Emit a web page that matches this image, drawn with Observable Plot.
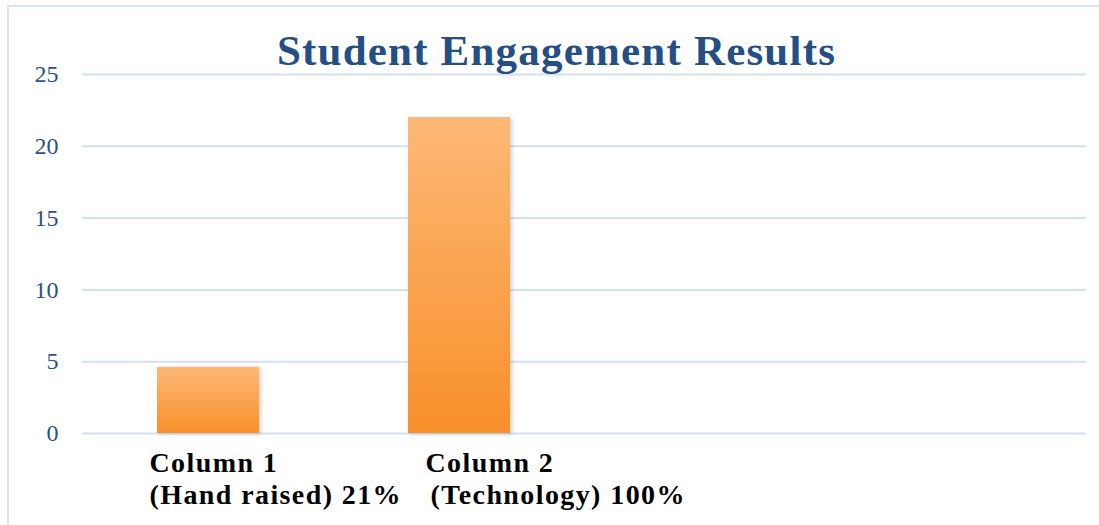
<!DOCTYPE html>
<html><head><meta charset="utf-8">
<script src="https://cdn.jsdelivr.net/npm/d3@7"></script>
<script src="https://cdn.jsdelivr.net/npm/@observablehq/plot@0.6"></script>
<style>
body{margin:0;background:#fff;}
#wrap{position:relative;width:1099px;height:525px;overflow:hidden;background:#fff;}
#frame{position:absolute;left:7px;top:5px;width:1200px;height:700px;border-left:2px solid #dbe5f2;border-top:2px solid #dbe5f2;}
#title{position:absolute;left:0;top:26px;width:1113px;text-align:center;font-family:"Liberation Serif",serif;font-weight:bold;font-size:43px;letter-spacing:1.2px;color:#234f85;white-space:nowrap;}
#chart{position:absolute;left:0;top:0;}
</style>
</head><body>
<div id="wrap"><div id="frame"></div><div id="chart"></div><div id="title">Student Engagement Results</div></div>
<script>
const categories = ["c1", "c2", "c3", "c4"];
const values = [4.6, 22, null, null];
const labelLine1 = ["Column 1", "Column 2", "", ""];
const labelLine2 = ["(Hand raised) 21%", "(Technology) 100%", "", ""];
const yTicks = [0, 5, 10, 15, 20, 25];

const rows = categories.map((c, i) => ({cat: c, value: values[i], l1: labelLine1[i], l2: labelLine2[i]}));
const bars = rows.filter(d => d.value != null);

const labelFont = {fontFamily: "Liberation Serif, serif", fontWeight: "bold", fontSize: 28, fill: "#000", textAnchor: "start"};
const lx = [[-59, -59], [-34, -29]];
const labelMarks = [];
rows.forEach((r, i) => {
  if (!r.l1) return;
  labelMarks.push(Plot.text([r], {x: "cat", y: 0, text: "l1", dx: lx[i][0], dy: 29.5, className: "xlab", ...labelFont}));
  labelMarks.push(Plot.text([r], {x: "cat", y: 0, text: "l2", dx: lx[i][1], dy: 61.5, className: "xlab", ...labelFont}));
});

const svg = Plot.plot({
  width: 1099,
  height: 525,
  marginLeft: 82,
  marginRight: 13,
  marginTop: 74,
  marginBottom: 92,
  style: {fontFamily: "Liberation Serif, serif", background: "transparent", overflow: "visible"},
  x: {domain: categories, paddingInner: 0.594, paddingOuter: 0.297, axis: null},
  y: {domain: [0, 25], axis: null},
  marks: [
    Plot.gridY(yTicks, {stroke: "#d5e0f0", strokeOpacity: 1, strokeWidth: 2}),
    Plot.axisY(yTicks, {tickSize: 0, tickPadding: 24, fontSize: 24, fill: "#2b5288", label: null}),
    Plot.barY(bars, {x: "cat", y: "value", fill: "url(#barGrad)", className: "bars"}),
    ...labelMarks
  ]
});

const defs = d3.select(svg).insert("defs", ":first-child");
const g = defs.append("linearGradient").attr("id", "barGrad").attr("x1", 0).attr("y1", 0).attr("x2", 0).attr("y2", 1);
g.append("stop").attr("offset", "0%").attr("stop-color", "#fdb877");
g.append("stop").attr("offset", "100%").attr("stop-color", "#f8902a");
d3.select(svg).selectAll(".bars rect").style("filter", "drop-shadow(2px 1px 2px rgba(0,0,0,0.18))");
d3.select(svg).selectAll(".xlab text").style("letter-spacing", "1.4px");

document.getElementById("chart").appendChild(svg);
</script>
</body></html>
